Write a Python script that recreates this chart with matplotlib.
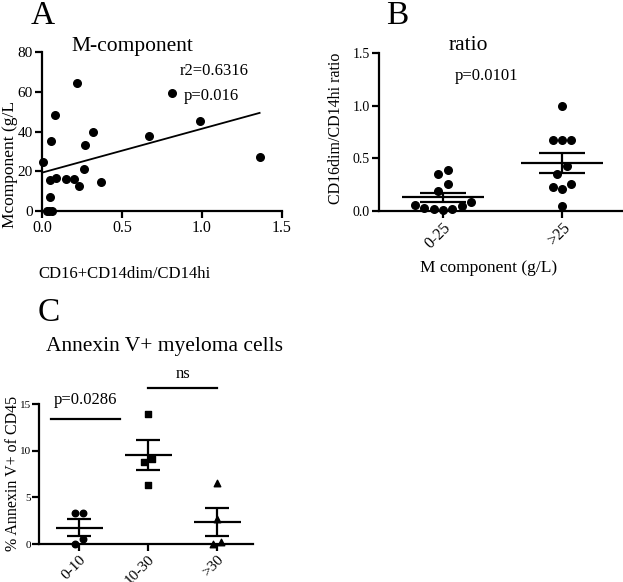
import numpy as np
import matplotlib
matplotlib.use("Agg")
import matplotlib.pyplot as plt

plt.rcParams['font.family'] = ['Liberation Serif', 'DejaVu Serif']
plt.rcParams['mathtext.fontset'] = 'stix'

# ---------------- data ----------------
# Panel A: scatter with regression
a_x = [0.006, 0.22, 0.08, 0.054, 0.32, 0.27, 0.26, 0.05, 0.09, 0.15, 0.20, 0.23,
       0.37, 0.05, 0.03, 0.045, 0.06, 0.67, 0.81, 0.99, 1.36]
a_y = [24.7, 64.2, 48.3, 35.0, 40.0, 33.0, 21.3, 15.8, 16.4, 16.3, 16.3, 12.8,
       14.6, 6.9, 0.0, 0.0, 0.0, 37.6, 59.4, 45.1, 27.2]
a_fit_intercept = 19.3
a_fit_slope = 22.1
a_xticks = [0.0, 0.5, 1.0, 1.5]
a_yticks = [0, 20, 40, 60, 80]

# Panel B: ratio by M component group
b_categories = ["0-25", ">25"]
b_low = [0.35, 0.385, 0.26, 0.19, 0.09, 0.05, 0.02, 0.006, 0.02, 0.03, 0.054]
b_high = [1.0, 0.67, 0.67, 0.67, 0.43, 0.35, 0.26, 0.21, 0.23, 0.05]
b_yticks = [0.0, 0.5, 1.0, 1.5]

# Panel C: Annexin V+ myeloma cells
c_categories = ["0-10", "10-30", ">30"]
c_g1 = [3.27, 3.27, 0.5, 0.0]
c_g2 = [13.96, 9.08, 8.75, 6.28]
c_g3 = [6.5, 2.65, 0.0, 0.25]
c_yticks = [0, 5, 10, 15]
c_markers = ["o", "s", "^"]

# ---------------- figure ----------------
W, H = 623, 582
fig = plt.figure(figsize=(W / 100, H / 100), dpi=100)


def ax_px(l, t, r, b):
    return fig.add_axes([l / W, 1 - b / H, (r - l) / W, (b - t) / H])


def style(ax):
    for s in ("top", "right"):
        ax.spines[s].set_visible(False)
    for s in ("left", "bottom"):
        ax.spines[s].set_linewidth(1.6)
    ax.tick_params(direction="out", length=5, width=1.6, labelsize=11.5, pad=1.5)


def swarm_offsets(vals, step_px, px_per_y, px_per_x):
    vals = np.asarray(vals, float)
    order = np.argsort(vals)
    offs = np.zeros(len(vals))
    rows = []
    cur = [order[0]]
    for idx in order[1:]:
        if (vals[idx] - vals[cur[0]]) * px_per_y < step_px:
            cur.append(idx)
        else:
            rows.append(cur)
            cur = [idx]
    rows.append(cur)
    for row in rows:
        n = len(row)
        if n % 2 == 1:
            slots = [0]
            k = 1
            while len(slots) < n:
                slots += [-k, k]
                k += 1
        else:
            slots = []
            k = 0.5
            while len(slots) < n:
                slots += [-k, k]
                k += 1
        for j, idx in enumerate(row):
            offs[idx] = slots[j] * step_px / px_per_x
    return offs


# ---------------- Panel A ----------------
axA = ax_px(42, 52, 282, 211)
style(axA)
axA.scatter(a_x, a_y, s=30, color="black", zorder=3, clip_on=False)
fx = np.array([0.0, max(a_x)])
axA.plot(fx, a_fit_intercept + a_fit_slope * fx, color="black", lw=1.3)
axA.set_xlim(0, 1.5)
axA.set_ylim(0, 80)
axA.set_xticks(a_xticks)
axA.set_xticklabels([f"{v:.1f}" for v in a_xticks])
axA.set_yticks(a_yticks)
axA.tick_params(axis="y", labelsize=11)
fig.text(10 / W, 1 - 165 / H, "Mcomponent (g/L", rotation=90, ha="center", va="center", fontsize=12.5)
fig.text(38 / W, 1 - 274 / H, "CD16+CD14dim/CD14hi", ha="left", va="center", fontsize=12)
fig.text(132 / W, 1 - 46 / H, "M-component", ha="center", va="center", fontsize=15.5)
fig.text(214 / W, 1 - 71 / H, "r2=0.6316", ha="center", va="center", fontsize=12)
fig.text(211 / W, 1 - 96 / H, "p=0.016", ha="center", va="center", fontsize=12)
fig.text(43 / W, 1 - 16 / H, "A", ha="center", va="center", fontsize=24)

# ---------------- Panel B ----------------
axB = ax_px(379, 53, 622, 211)
style(axB)
bxl = (-0.538, 1.504)
axB.set_xlim(*bxl)
axB.set_ylim(0, 1.5)
pxx = (622 - 379) / (bxl[1] - bxl[0])
pxy = (211 - 53) / 1.5
for i, vals in enumerate([b_low, b_high]):
    v = np.asarray(vals)
    off = swarm_offsets(v, 9.3, pxy, pxx)
    axB.scatter(i + off, v, s=30, color="black", zorder=3, clip_on=False)
    m = v.mean()
    se = v.std(ddof=1) / np.sqrt(len(v))
    axB.hlines(m, i - 0.345, i + 0.345, color="black", lw=1.6, zorder=4)
    axB.hlines([m - se, m + se], i - 0.19, i + 0.19, color="black", lw=1.6, zorder=4)
    axB.vlines(i, m - se, m + se, color="black", lw=1.6, zorder=4)
axB.set_xticks(range(len(b_categories)))
axB.set_xticklabels(b_categories, rotation=45, ha="right", rotation_mode="anchor")
axB.set_yticks(b_yticks)
axB.set_yticklabels([f"{v:.1f}" for v in b_yticks])
axB.tick_params(axis="y", labelsize=10)
fig.text(336 / W, 1 - 128 / H, "CD16dim/CD14hi ratio", rotation=90, ha="center", va="center", fontsize=11.5)
fig.text(489 / W, 1 - 268 / H, "M component (g/L)", ha="center", va="center", fontsize=12.5)
fig.text(468 / W, 1 - 46 / H, "ratio", ha="center", va="center", fontsize=15.5)
fig.text(486 / W, 1 - 76 / H, "p=0.0101", ha="center", va="center", fontsize=12)
fig.text(397 / W, 1 - 16 / H, "B", ha="center", va="center", fontsize=24)

# ---------------- Panel C ----------------
axC = ax_px(39, 404, 253, 544)
style(axC)
cxl = (-0.58, 2.52)
axC.set_xlim(*cxl)
axC.set_ylim(0, 15)
pxx = (253 - 39) / (cxl[1] - cxl[0])
pxy = (544 - 404) / 15
for i, vals in enumerate([c_g1, c_g2, c_g3]):
    v = np.asarray(vals)
    off = swarm_offsets(v, 8.7, pxy, pxx)
    axC.scatter(i + off, v, s=22, marker=c_markers[i], color="black", zorder=3, clip_on=False)
    m = v.mean()
    se = v.std(ddof=1) / np.sqrt(len(v))
    axC.hlines(m, i - 0.34, i + 0.34, color="black", lw=1.6, zorder=4)
    axC.hlines([m - se, m + se], i - 0.17, i + 0.17, color="black", lw=1.6, zorder=4)
    axC.vlines(i, m - se, m + se, color="black", lw=1.6, zorder=4)
axC.set_xticks(range(len(c_categories)))
axC.set_xticklabels(c_categories, rotation=45, ha="right", rotation_mode="anchor", fontsize=11)
axC.set_yticks(c_yticks)
axC.tick_params(axis="y", labelsize=8, pad=1)
# significance bars
axC.plot([-0.41, 0.59], [13.35, 13.35], color="black", lw=1.6, clip_on=False)
axC.plot([1.0, 2.0], [16.7, 16.7], color="black", lw=1.6, clip_on=False)
axC.text(0.09, 15.4, "p=0.0286", ha="center", va="center", fontsize=12)
axC.text(1.5, 18.2, "ns", ha="center", va="center", fontsize=12)
fig.text(13 / W, 1 - 473 / H, "% Annexin V+ of CD45", rotation=90, ha="center", va="center", fontsize=11.5)
fig.text(165 / W, 1 - 347 / H, "Annexin V+ myeloma cells", ha="center", va="center", fontsize=15.5)
fig.text(49 / W, 1 - 313 / H, "C", ha="center", va="center", fontsize=24)

fig.savefig("out.png", dpi=100)
